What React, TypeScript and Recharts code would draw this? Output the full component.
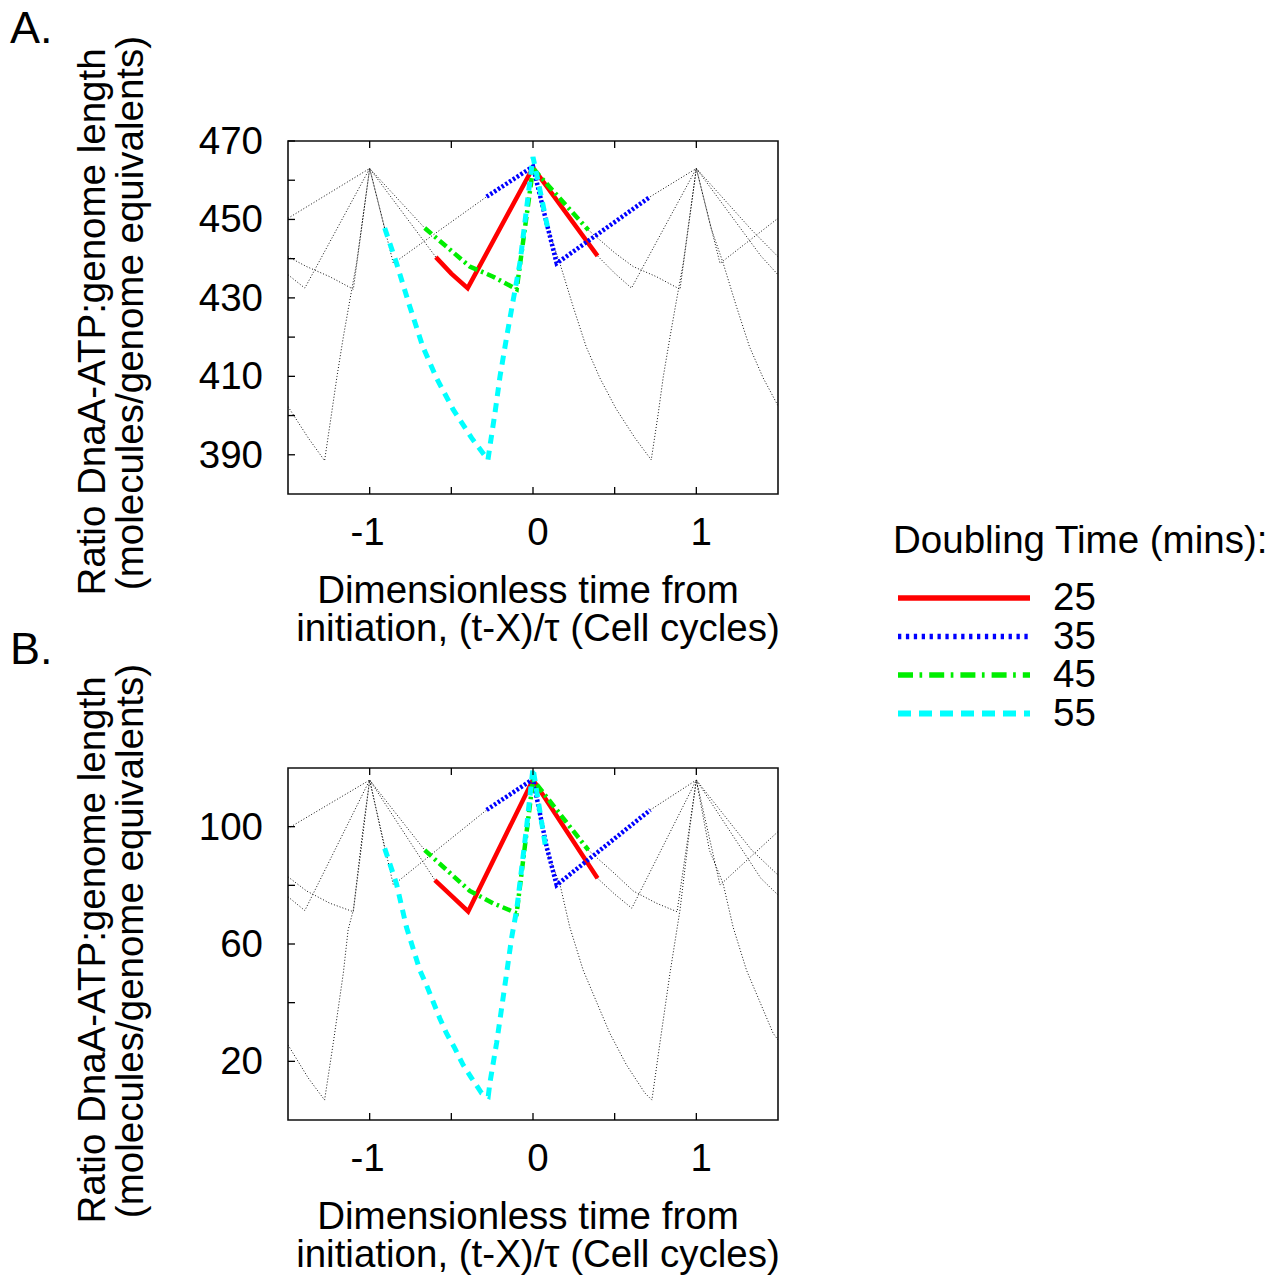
import { Line, LineChart, ReferenceArea, XAxis, YAxis } from "recharts";

const FONT = '"Liberation Sans", Arial, Helvetica, sans-serif';

// legend / series order
const doublingTimes = ["25", "35", "45", "55"];

const xTicks = [-1, -0.5, 0, 0.5, 1];
const xTickLabels = [-1, 0, 1];

const yTicksA = [390, 400, 410, 420, 430, 440, 450, 460, 470];
const yTickLabelsA = [390, 410, 430, 450, 470];
const yTicksB = [20, 40, 60, 80, 100];
const yTickLabelsB = [20, 60, 100];

type Pt = [number, number];

// Panel A, coloured curves [time, ratio]
const a25: Pt[] = [[-0.595, 440.4], [-0.5, 436.2], [-0.4, 432.5], [0, 463.2], [0.395, 440.7]];
const a35: Pt[] = [[-0.284, 455.8], [0, 463.5], [0.084, 449.0], [0.145, 438.8], [0.718, 455.8]];
const a45: Pt[] = [[-0.663, 447.8], [-0.387, 438.0], [-0.244, 435.4], [-0.1, 432.2], [0, 463.0], [0.339, 447.3]];
const a55: Pt[] = [
  [-0.908, 447.8], [-0.836, 438.9], [-0.756, 428.0], [-0.675, 417.6], [-0.591, 409.6],
  [-0.491, 401.7], [-0.376, 394.3], [-0.276, 388.7], [-0.264, 392.1], [-0.233, 400.6],
  [-0.202, 410.0], [-0.161, 420.1], [-0.121, 429.5], [-0.08, 438.9], [-0.018, 460.1],
  [0, 465.9], [0.05, 456.0], [0.09, 447.8],
];

// Panel A, grey dotted neighbouring cycles
const a25g1: Pt[] = [[-1.5, 435.9], [-1.397, 432.5], [-1, 463.0], [-0.595, 440.4]];
const a25g2: Pt[] = [[0.395, 440.7], [0.5, 436.3], [0.603, 432.5], [1, 463.0], [1.395, 440.7], [1.5, 435.9]];
const a35g1: Pt[] = [[-1.5, 450.3], [-1, 463.0], [-0.855, 438.8], [-0.284, 455.8]];
const a35g2: Pt[] = [[0.718, 455.8], [1, 463.0], [1.145, 438.8], [1.5, 450.3]];
const a45g1: Pt[] = [[-1.5, 440.5], [-1.387, 438.0], [-1.244, 435.4], [-1.1, 432.2], [-1, 463.0], [-0.663, 447.8]];
const a45g2: Pt[] = [
  [0.339, 447.3], [0.5, 441.5], [0.613, 438.0], [0.756, 435.4], [0.9, 432.2],
  [1, 463.0], [1.339, 447.3], [1.5, 440.5],
];
const a55g1: Pt[] = [
  [-1.5, 402.3], [-1.376, 394.3], [-1.276, 388.5], [-1.233, 400.6], [-1.2, 410.0],
  [-1.161, 420.1], [-1.121, 429.5], [-1.08, 438.9], [-1, 463.0], [-0.908, 447.8],
];
const a55g2: Pt[] = [
  [0.09, 447.8], [0.164, 438.9], [0.244, 428.0], [0.325, 417.6], [0.409, 409.6],
  [0.509, 401.7], [0.624, 394.3], [0.724, 388.7], [0.767, 400.6], [0.798, 410.0],
  [0.839, 420.1], [0.879, 429.5], [0.92, 438.9], [1, 463.0], [1.09, 447.8],
  [1.164, 438.9], [1.244, 428.0], [1.325, 417.6], [1.409, 409.6], [1.5, 402.5],
];

// Panel B, coloured curves
const b25: Pt[] = [[-0.601, 81.8], [-0.5, 76.5], [-0.397, 71.1], [0, 116.0], [0.395, 82.4]];
const b35: Pt[] = [[-0.284, 105.7], [0, 116.2], [0.084, 93.0], [0.145, 80.1], [0.718, 105.7]];
const b45: Pt[] = [[-0.663, 92.0], [-0.387, 78.1], [-0.244, 73.9], [-0.1, 70.5], [0, 116.0], [0.339, 92.0]];
const b55: Pt[] = [
  [-0.908, 92.6], [-0.836, 80.6], [-0.775, 65.8], [-0.693, 51.1], [-0.652, 46.0],
  [-0.612, 40.4], [-0.571, 34.7], [-0.53, 29.6], [-0.479, 24.5], [-0.428, 18.8],
  [-0.376, 14.3], [-0.315, 9.2], [-0.274, 8.1], [-0.264, 12.6], [-0.223, 26.2],
  [-0.192, 38.2], [-0.161, 50.2], [-0.131, 62.1], [-0.1, 71.6], [-0.039, 100.0],
  [0, 120.0], [0.08, 92.0],
];

// Panel B, grey dotted neighbouring cycles
const b25g1: Pt[] = [[-1.5, 76.1], [-1.397, 71.4], [-1, 115.9], [-0.601, 81.8]];
const b25g2: Pt[] = [[0.395, 82.4], [0.5, 77.0], [0.605, 72.2], [1, 115.9], [1.395, 82.4], [1.5, 76.7]];
const b35g1: Pt[] = [[-1.5, 99.4], [-1, 115.9], [-0.855, 80.1], [-0.284, 105.7]];
const b35g2: Pt[] = [[0.718, 105.7], [1, 115.9], [1.145, 80.1], [1.5, 98.3]];
const b45g1: Pt[] = [[-1.5, 82.9], [-1.387, 78.1], [-1.244, 73.9], [-1.1, 71.0], [-1, 115.9], [-0.663, 92.0]];
const b45g2: Pt[] = [
  [0.339, 92.0], [0.5, 84.0], [0.613, 78.1], [0.756, 73.9], [0.882, 71.0],
  [1, 115.9], [1.339, 92.0], [1.5, 83.5],
];
const b55g1: Pt[] = [
  [-1.5, 25.6], [-1.376, 14.3], [-1.276, 6.8], [-1.223, 26.2], [-1.161, 50.2],
  [-1.132, 64.8], [-1.1, 71.6], [-1.039, 100.0], [-1, 115.9], [-0.908, 92.6],
];
const b55g2: Pt[] = [
  [0.08, 92.0], [0.164, 80.6], [0.225, 65.8], [0.307, 51.1], [0.388, 40.4],
  [0.47, 29.6], [0.572, 18.8], [0.685, 9.2], [0.728, 6.8], [0.777, 26.2],
  [0.839, 50.2], [0.9, 71.6], [0.961, 100.0], [1, 115.9], [1.08, 92.0],
  [1.164, 80.6], [1.225, 65.8], [1.307, 51.1], [1.388, 40.4], [1.47, 29.6], [1.5, 27.3],
];

const seriesStyle = [
  { color: "#ff0000", width: 4.5, dash: undefined, legendDash: undefined },
  { color: "#0000ff", width: 4.5, dash: "2.5 2", legendDash: "3.3 4.6" },
  { color: "#00ee00", width: 4.5, dash: "9 4 2.5 4", legendDash: "15 6.5 2.7 7" },
  { color: "#00ffff", width: 5, dash: "9 7", legendDash: "13 8" },
];

const toPoints = (arr: Pt[]) => arr.map(([t, v]) => ({ t, v }));

type PanelProps = {
  top: number;
  plotTop: number;
  plotBottom: number;
  domain: [number, number];
  yTicks: number[];
  yTickLabels: number[];
  colored: Pt[][];
  grey: Pt[][];
};

const PLOT_LEFT = 288;
const PLOT_RIGHT = 778;
const W = 800;
const H = 580;
const TICK = 7;
const FS = 38.5;

function Panel({ top, plotTop, plotBottom, domain, yTicks, yTickLabels, colored, grey }: PanelProps) {
  const XTick = (props: any) => {
    const { x, payload } = props;
    const val = payload.value as number;
    return (
      <g>
        <line x1={x} x2={x} y1={plotBottom} y2={plotBottom - TICK} stroke="#000" strokeWidth={1.3} />
        <line x1={x} x2={x} y1={plotTop} y2={plotTop + TICK} stroke="#000" strokeWidth={1.3} />
        {xTickLabels.includes(val) && (
          <text x={x + (val < 0 ? -2 : 5)} y={plotBottom + 51} textAnchor="middle" fontSize={FS} fontFamily={FONT} fill="#000">
            {val}
          </text>
        )}
      </g>
    );
  };

  const YTick = (props: any) => {
    const { y, payload } = props;
    const val = payload.value as number;
    return (
      <g>
        <line x1={PLOT_LEFT} x2={PLOT_LEFT + TICK} y1={y} y2={y} stroke="#000" strokeWidth={1.3} />
        {yTickLabels.includes(val) && (
          <text x={263} y={y + 13} textAnchor="end" fontSize={FS} fontFamily={FONT} fill="#000">
            {val}
          </text>
        )}
      </g>
    );
  };

  return (
    <div style={{ position: "absolute", left: 0, top, width: W, height: H }}>
      <LineChart
        width={W}
        height={H}
        margin={{ top: plotTop, right: W - PLOT_RIGHT, bottom: H - plotBottom - 60, left: PLOT_LEFT - 60 }}
      >
        <XAxis
          dataKey="t"
          type="number"
          domain={[-1.5, 1.5]}
          ticks={xTicks}
          interval={0}
          axisLine={false}
          tickLine={false}
          height={60}
          tick={XTick}
          allowDataOverflow
        />
        <YAxis
          dataKey="v"
          type="number"
          domain={domain}
          ticks={yTicks}
          interval={0}
          axisLine={false}
          tickLine={false}
          width={60}
          tick={YTick}
          allowDataOverflow
        />
        {grey.map((g, i) => (
          <Line
            key={`g${i}`}
            data={toPoints(g)}
            dataKey="v"
            type="linear"
            stroke="#111"
            strokeWidth={1}
            strokeDasharray="1 2"
            dot={false}
            activeDot={false}
            isAnimationActive={false}
          />
        ))}
        {colored.map((c, i) => (
          <Line
            key={`c${i}`}
            data={toPoints(c)}
            dataKey="v"
            name={doublingTimes[i]}
            type="linear"
            stroke={seriesStyle[i].color}
            strokeWidth={seriesStyle[i].width}
            strokeDasharray={seriesStyle[i].dash}
            dot={false}
            activeDot={false}
            isAnimationActive={false}
          />
        ))}
        <ReferenceArea
          x1={-1.5}
          x2={1.5}
          y1={domain[0]}
          y2={domain[1]}
          fill="none"
          fillOpacity={0}
          stroke="#111"
          strokeWidth={1.6}
          ifOverflow="visible"
        />
      </LineChart>
    </div>
  );
}

function Labels() {
  const t = { fontSize: FS, fontFamily: FONT, fill: "#000" };
  return (
    <svg
      width={1273}
      height={1276}
      style={{ position: "absolute", left: 0, top: 0, pointerEvents: "none" }}
    >
      <text x={10} y={43} fontSize={45} fontFamily={FONT}>A.</text>
      <text x={10} y={664} fontSize={45} fontFamily={FONT}>B.</text>

      <text {...t} x={105} y={322} textAnchor="middle" transform="rotate(-90 105 322)">
        Ratio DnaA-ATP:genome length
      </text>
      <text {...t} x={143} y={313} textAnchor="middle" transform="rotate(-90 143 313)">
        (molecules/genome equivalents)
      </text>
      <text {...t} x={105} y={950} textAnchor="middle" transform="rotate(-90 105 950)">
        Ratio DnaA-ATP:genome length
      </text>
      <text {...t} x={143} y={941} textAnchor="middle" transform="rotate(-90 143 941)">
        (molecules/genome equivalents)
      </text>

      <text {...t} x={528} y={603} textAnchor="middle">Dimensionless time from</text>
      <text {...t} x={538} y={641} textAnchor="middle">initiation, (t-X)/τ (Cell cycles)</text>
      <text {...t} x={528} y={1229} textAnchor="middle">Dimensionless time from</text>
      <text {...t} x={538} y={1267} textAnchor="middle">initiation, (t-X)/τ (Cell cycles)</text>

      <text {...t} x={893} y={553}>Doubling Time (mins):</text>
      {doublingTimes.map((d, i) => {
        const y = 598 + i * 38.5;
        const s = seriesStyle[i];
        return (
          <g key={d}>
            <line x1={898} x2={1030} y1={y} y2={y} stroke={s.color} strokeWidth={s.width + 1} strokeDasharray={s.legendDash} />
            <text {...t} x={1053} y={y + 12}>{d}</text>
          </g>
        );
      })}
    </svg>
  );
}

export default function App() {
  return (
    <div style={{ position: "absolute", left: 0, top: 0, width: 1273, height: 1276, background: "#fff" }}>
      <Panel
        top={0}
        plotTop={141}
        plotBottom={494}
        domain={[380, 470]}
        yTicks={yTicksA}
        yTickLabels={yTickLabelsA}
        colored={[a25, a35, a45, a55]}
        grey={[a25g1, a25g2, a35g1, a35g2, a45g1, a45g2, a55g1, a55g2]}
      />
      <Panel
        top={600}
        plotTop={168}
        plotBottom={520}
        domain={[0, 120]}
        yTicks={yTicksB}
        yTickLabels={yTickLabelsB}
        colored={[b25, b35, b45, b55]}
        grey={[b25g1, b25g2, b35g1, b35g2, b45g1, b45g2, b55g1, b55g2]}
      />
      <Labels />
    </div>
  );
}
